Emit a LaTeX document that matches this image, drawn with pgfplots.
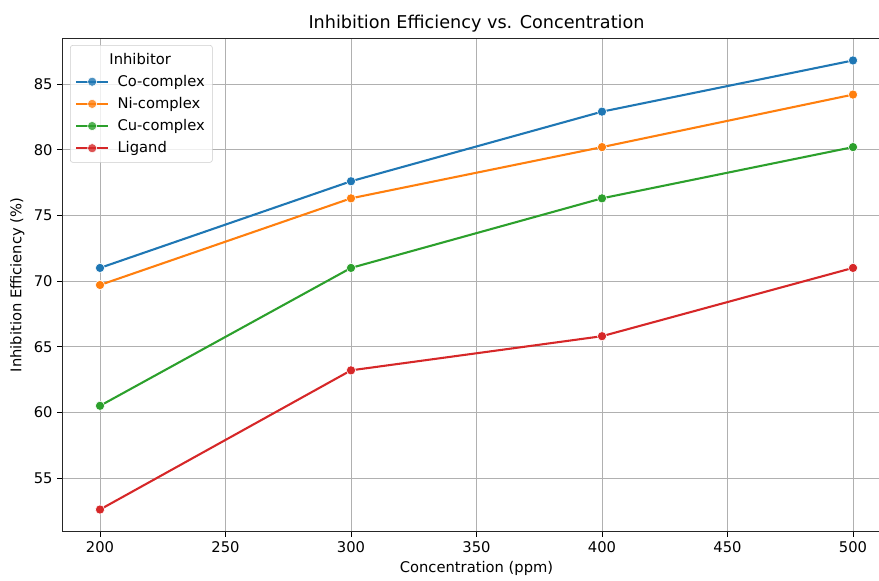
\documentclass[border=0pt]{standalone}
\usepackage{fontspec}
\setmainfont{DejaVu Sans}
\usepackage{pgfplots}
\pgfplotsset{compat=1.18}
\definecolor{cblue}{HTML}{1F77B4}
\definecolor{corange}{HTML}{FF7F0E}
\definecolor{cgreen}{HTML}{2CA02C}
\definecolor{cred}{HTML}{D62728}
\definecolor{gridgray}{HTML}{B0B0B0}
\definecolor{leggray}{HTML}{CCCCCC}
\begin{document}
\begin{tikzpicture}
\begin{scope}
\clip (-44.9pt,-35.28pt) rectangle (588pt,383.04pt);
\begin{axis}[
  at={(0,0)}, anchor=south west,
  scale only axis, width=596.4pt, height=355.68pt,
  xmin=185, xmax=515, ymin=50.89, ymax=88.51,
  xtick={200,250,...,500}, ytick={55,60,...,85},
  xtick pos=bottom, ytick pos=left,
  grid=major, grid style={color=gridgray, line width=0.7pt},
  axis line style={line width=0.7pt, black!85},
  tick style={black, line width=0.7pt},
  tick align=outside, major tick length=3.5pt,
  ticklabel style={font=\fontsize{10.6}{12}\selectfont},
  /pgf/number format/assume math mode=true,
  /pgf/number format/1000 sep={},
  xlabel={Concentration (ppm)},
  ylabel={Inhibition Efficiency (\%)},
  xlabel style={yshift=1pt},
  label style={font=\fontsize{10.6}{12}\selectfont},
  title={Inhibition Efficiency vs. Concentration},
  title style={font=\fontsize{12.7}{15}\selectfont, yshift=-5pt},
  legend style={at={(0.00924,0.9858)}, anchor=north west, draw=leggray, fill=white, fill opacity=0.8, text opacity=1, rounded corners=2pt, font=\fontsize{10.6}{12.5}\selectfont, inner xsep=3.5pt, inner ysep=3.5pt, row sep=2.4pt, column sep=4pt},
  legend cell align=left,
  legend image code/.code={\draw[mark repeat=2,mark phase=2] plot coordinates {(0pt,0pt)(11.5pt,0pt)(23pt,0pt)};},
  every axis plot/.append style={line width=1.5pt, mark=*, mark size=3.3pt},
]
\addlegendimage{empty legend}
\addlegendentry{\hspace*{-5.8pt}Inhibitor}
\addplot[color=cblue, mark options={fill=cblue, draw=white, line width=0.4pt}] coordinates {(200,71.0) (300,77.6) (400,82.9) (500,86.8)};
\addlegendentry{Co-complex}
\addplot[color=corange, mark options={fill=corange, draw=white, line width=0.4pt}] coordinates {(200,69.7) (300,76.3) (400,80.2) (500,84.2)};
\addlegendentry{Ni-complex}
\addplot[color=cgreen, mark options={fill=cgreen, draw=white, line width=0.4pt}] coordinates {(200,60.5) (300,71.0) (400,76.3) (500,80.2)};
\addlegendentry{Cu-complex}
\addplot[color=cred, mark options={fill=cred, draw=white, line width=0.4pt}] coordinates {(200,52.6) (300,63.2) (400,65.8) (500,71.0)};
\addlegendentry{Ligand}
\end{axis}
\end{scope}
\pgfresetboundingbox
\useasboundingbox (-44.9pt,-35.28pt) rectangle (588pt,383.04pt);
\end{tikzpicture}
\end{document}
